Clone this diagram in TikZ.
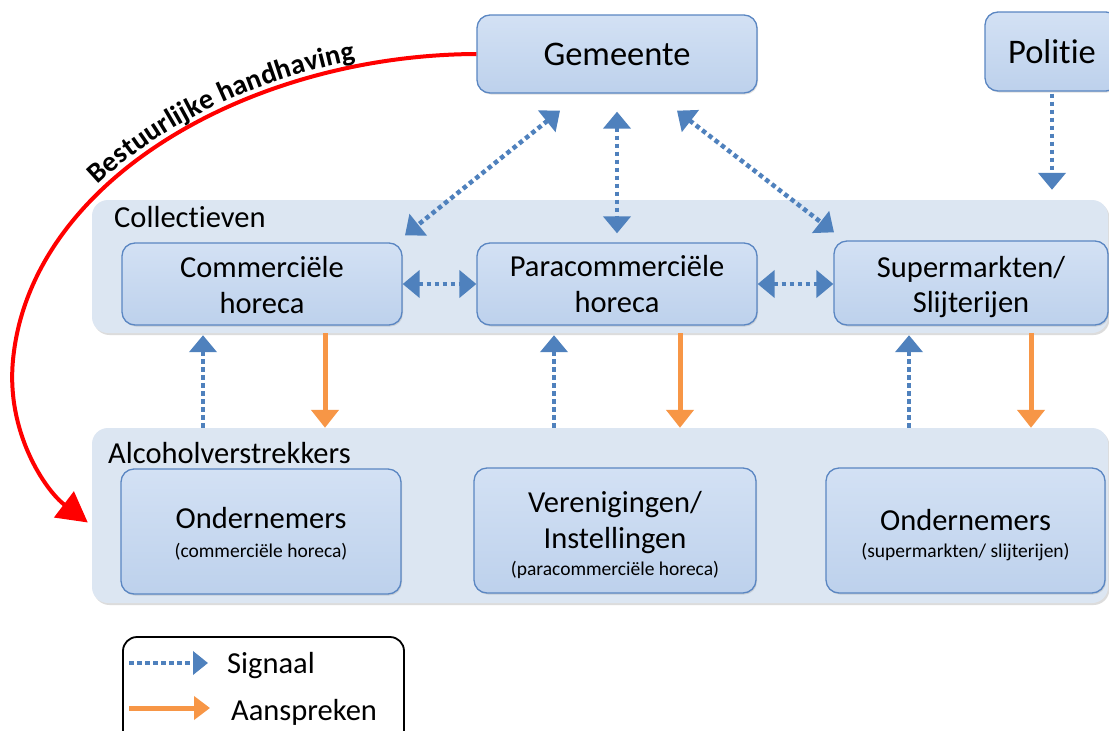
\documentclass[tikz,border=0pt]{standalone}
\usepackage{fontspec}
\setmainfont{Carlito}[Ligatures=NoCommon]
\usetikzlibrary{arrows.meta,calc,decorations.text,shadows}
\definecolor{boxtop}{HTML}{D3E1F4}
\definecolor{boxbot}{HTML}{BDD1EC}
\definecolor{boxdraw}{HTML}{5A86C2}
\definecolor{grpfill}{HTML}{DCE6F2}
\definecolor{sigblue}{HTML}{4F81BD}
\definecolor{orng}{HTML}{F79646}
\definecolor{redline}{HTML}{FF0000}
\tikzset{
  TS/.tip={Triangle[length=17pt,width=27pt]},
  TO/.tip={Triangle[length=18pt,width=27pt]},
  TSs/.tip={Triangle[length=15pt,width=23pt]},
  TOs/.tip={Triangle[length=16pt,width=23pt]},
}
\begin{document}
\begin{tikzpicture}[x=1pt,y=-1pt,
  grp/.style={fill=grpfill, rounded corners=16pt, inner sep=0pt,
    drop shadow={shadow xshift=1.5pt, shadow yshift=-2pt, opacity=0.3, fill=black!45}},
  box/.style={draw=boxdraw, line width=1.3pt, top color=boxtop, bottom color=boxbot,
    rounded corners=13pt, inner sep=0pt,
    drop shadow={shadow xshift=1pt, shadow yshift=-1.5pt, opacity=0.25, fill=black!50}},
  lbl/.style={anchor=base, inner sep=0pt, font=\fontsize{30.5}{36}\selectfont},
  big/.style={anchor=base, inner sep=0pt, font=\fontsize{34.5}{40}\selectfont},
  sml/.style={anchor=base, inner sep=0pt, font=\fontsize{19.5}{23}\selectfont},
  sig/.style={draw=sigblue, line width=4.5pt, dash pattern=on 4.5pt off 3.5pt},
  asp/.style={draw=orng, line width=5pt},
]
\useasboundingbox (0,0) rectangle (1109,731);
\fill[white] (0,0) rectangle (1109,731);
\clip (0,0) rectangle (1109,731);

% groups
\node[grp, minimum width=1016pt, minimum height=133pt] (col) at (600,266.5) {};
\node[grp, minimum width=1016pt, minimum height=175pt] (alc) at (600,515.5) {};
\node[lbl, anchor=base west] (colt) at (114,227) {Collectieven};
\node[lbl, anchor=base west] (alct) at (108,463) {Alcoholverstrekkers};

% boxes
\node[box, minimum width=280pt, minimum height=78pt] (gem) at (617,54) {};
\node[box, minimum width=134pt, minimum height=79pt] (pol) at (1052,51.5) {};
\node[box, minimum width=280pt, minimum height=82pt] (comm) at (262,284) {};
\node[box, minimum width=280pt, minimum height=82pt] (para) at (617,284) {};
\node[box, minimum width=274pt, minimum height=84pt] (sup) at (971,283) {};
\node[box, minimum width=280pt, minimum height=125pt] (ond1) at (261,531.5) {};
\node[box, minimum width=282pt, minimum height=125pt] (ver) at (615,530.5) {};
\node[box, minimum width=279pt, minimum height=125pt] (ond2) at (965.5,530.5) {};

% texts
\node[big] (gemt) at (617,65) {Gemeente};
\node[big] (polt) at (1052,63) {Politie};
\node[lbl] (commt1) at (262,277) {Commerciële};
\node[lbl] (commt2) at (262,313) {horeca};
\node[lbl] (parat1) at (617,276) {Paracommerciële};
\node[lbl] (parat2) at (617,312) {horeca};
\node[lbl] (supt1) at (971,277) {Supermarkten/};
\node[lbl] (supt2) at (971,312) {Slijterijen};
\node[lbl] (ond1t) at (261,528) {Ondernemers};
\node[sml] (ond1s) at (261,557) {(commerciële horeca)};
\node[lbl] (vert1) at (615,512) {Verenigingen/};
\node[lbl] (vert2) at (615,548) {Instellingen};
\node[sml] (vers) at (615,575) {(paracommerciële horeca)};
\node[lbl] (ond2t) at (965.5,530) {Ondernemers};
\node[sml] (ond2s) at (965.5,557) {(supermarkten/ slijterijen)};

% signal arrows from Gemeente / Politie
\draw[sig, TS-TS] ([shift={(-57,17)}]gem.south) -- ([shift={(143,-7)}]comm.north);
\draw[sig, TS-TS] ([shift={(0,18)}]gem.south) -- ([shift={(0,-9)}]para.north);
\draw[sig, TS-TS] ([shift={(60,17)}]gem.south) -- ([shift={(-137,-8)}]sup.north);
\draw[sig, -TS, shorten >=10pt] ([shift={(0,2)}]pol.south) -- (pol.south |- col.north);
\draw[sig, TS-TS] (comm.east) -- (para.west);
\draw[sig, TS-TS] (para.east) -- (para.east -| sup.west);

% vertical arrows between groups
\draw[sig, -TS] (alc.north -| 203,0) -- ([shift={(0,2)}]col.south -| 203,0);
\draw[asp, -TO] (col.south -| 325,0) -- (alc.north -| 325,0);
\draw[sig, -TS] (alc.north -| 554,0) -- ([shift={(0,2)}]col.south -| 554,0);
\draw[asp, -TO] (col.south -| 680,0) -- (alc.north -| 680,0);
\draw[sig, -TS] (alc.north -| 909,0) -- ([shift={(0,2)}]col.south -| 909,0);
\draw[asp, -TO] (col.south -| 1031,0) -- (alc.north -| 1031,0);

% red enforcement curve
\coordinate (redend) at ([shift={(-4,7)}]alc.west);
\draw[redline, line width=4pt, -{Triangle[length=30pt,width=32pt]}]
  (gem.west) .. controls (250,55) and (30,180) .. (13,360)
  .. controls (6,432) and (45,490) .. (redend);
\path[decorate, decoration={text along path,
    text={|\fontsize{28.5}{30}\selectfont\bfseries|Bestuurlijke handhaving},
    text align={center, left indent=76pt}, raise=6pt}]
  (13,360) .. controls (30,180) and (250,55) .. (gem.west);

% legend
\node[draw=black, line width=1.8pt, rounded corners=14pt, minimum width=281pt,
  minimum height=108pt, inner sep=0pt] (leg) at (263.5,691) {};
\coordinate (l1a) at (129,663);
\coordinate (l1b) at (208,663);
\draw[sig, line width=4pt, -TSs] (l1a) -- (l1b);
\coordinate (l2a) at (129,708);
\coordinate (l2b) at (210,708);
\draw[asp, -TOs] (l2a) -- (l2b);
\node[lbl, anchor=base west] (sigt) at (227,673) {Signaal};
\node[lbl, anchor=base west] (aspt) at (231,720) {Aanspreken};
\end{tikzpicture}
\end{document}
